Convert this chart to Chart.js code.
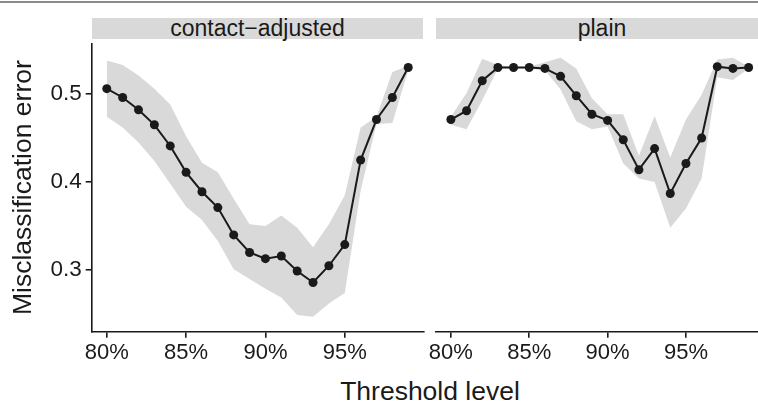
<!DOCTYPE html>
<html>
<head>
<meta charset="utf-8">
<script src="https://cdn.jsdelivr.net/npm/chart.js@4.4.1/dist/chart.umd.min.js"></script>
<style>
  html, body { margin: 0; padding: 0; overflow: hidden; background: #fff; width: 758px; height: 402px; }
  #stage { position: relative; width: 768px; height: 402px; font-family: "Liberation Sans", Arial, sans-serif; color: #1a1a1a; }
  .topline { position: absolute; left: 0; top: 1px; width: 768px; height: 1.5px; background: #8c8c8c; }
  .strip { position: absolute; top: 18px; height: 21px; background: #d9d9d9; font-size: 23px; line-height: 21px; text-align: center; }
  .box { position: absolute; top: 39px; height: 333px; }
  #xtitle { position: absolute; left: 92px; width: 676px; top: 378px; font-size: 26.5px; line-height: 26px; text-align: center; }
</style>
</head>
<body>
<div id="stage">
  <div class="topline"></div>
  <div class="strip" style="left:91.7px; width:331.6px;">contact−adjusted</div>
  <div class="strip" style="left:436px; width:332px;">plain</div>
  <div class="box" style="left:0; width:430px;"><canvas id="chartAdj"></canvas></div>
  <div class="box" style="left:410px; width:358px;"><canvas id="chartPlain"></canvas></div>
  <div id="xtitle">Threshold level</div>
</div>
<script>
// threshold levels (%)
const thresholds = [80, 81, 82, 83, 84, 85, 86, 87, 88, 89, 90, 91, 92, 93, 94, 95, 96, 97, 98, 99];
const xTicks = [80, 85, 90, 95];
const yTicks = [0.3, 0.4, 0.5];

// contact-adjusted panel
const adjErr  = [0.506, 0.496, 0.482, 0.465, 0.441, 0.411, 0.389, 0.371, 0.340, 0.320, 0.313, 0.316, 0.299, 0.286, 0.305, 0.329, 0.425, 0.471, 0.496, 0.530];
const adjLow  = [0.474, 0.462, 0.445, 0.424, 0.398, 0.372, 0.357, 0.333, 0.301, 0.290, 0.279, 0.269, 0.249, 0.247, 0.262, 0.274, 0.390, 0.466, 0.467, 0.527];
const adjHigh = [0.538, 0.533, 0.521, 0.506, 0.488, 0.452, 0.422, 0.411, 0.381, 0.352, 0.350, 0.362, 0.348, 0.326, 0.352, 0.385, 0.462, 0.474, 0.525, 0.532];

// plain panel
const plainErr  = [0.471, 0.481, 0.515, 0.530, 0.530, 0.530, 0.529, 0.520, 0.498, 0.477, 0.470, 0.448, 0.414, 0.438, 0.387, 0.421, 0.450, 0.531, 0.529, 0.530];
const plainLow  = [0.465, 0.460, 0.493, 0.529, 0.529, 0.529, 0.527, 0.505, 0.469, 0.460, 0.463, 0.421, 0.404, 0.400, 0.348, 0.370, 0.404, 0.519, 0.516, 0.529];
const plainHigh = [0.474, 0.501, 0.540, 0.533, 0.531, 0.531, 0.536, 0.541, 0.529, 0.495, 0.477, 0.477, 0.430, 0.475, 0.428, 0.471, 0.499, 0.539, 0.541, 0.531];

const ink = "#1a1a1a";
const ribbon = "#d9d9d9";
const fontFam = "'Liberation Sans', Arial, sans-serif";

const pts = (ys) => thresholds.map((t, i) => ({ x: t, y: ys[i] }));

function makePanel(id, err, low, high, showY) {
  const ctx = document.getElementById(id).getContext("2d");
  return new Chart(ctx, {
    type: "line",
    data: {
      datasets: [
        {
          data: pts(err),
          borderColor: ink,
          borderWidth: 2,
          pointRadius: 4.5,
          pointBackgroundColor: ink,
          pointBorderWidth: 0,
          fill: false
        },
        {
          data: pts(high),
          borderWidth: 0,
          pointRadius: 0,
          backgroundColor: ribbon,
          fill: "+1"
        },
        {
          data: pts(low),
          borderWidth: 0,
          pointRadius: 0,
          fill: false
        }
      ]
    },
    options: {
      responsive: true,
      maintainAspectRatio: false,
      animation: false,
      layout: { padding: { top: 0.5, right: showY ? 6.7 : 0, bottom: 0, left: showY ? 0 : 26 } },
      plugins: { legend: { display: false }, tooltip: { enabled: false } },
      scales: {
        x: {
          type: "linear",
          min: 79.05,
          max: 99.95,
          afterBuildTicks: s => { s.ticks = xTicks.map(v => ({ value: v })); },
          afterFit: s => { s.height = 40.3; },
          border: { display: true, color: ink, width: 1.6 },
          grid: { display: true, drawOnChartArea: false, drawTicks: true, tickLength: 6, color: ink, lineWidth: 1.6 },
          ticks: {
            padding: 2,
            maxRotation: 0,
            color: ink,
            font: { family: fontFam, size: 22 },
            callback: v => v + "%"
          }
        },
        y: {
          display: showY,
          min: 0.2301,
          max: 0.5573,
          afterBuildTicks: s => { s.ticks = yTicks.map(v => ({ value: v })); },
          afterFit: s => {
            if (showY) s.width = 91.7;
            // keep the panel top aligned with the strip
            s.paddingTop = 0;
            s.paddingBottom = 0;
          },
          border: { display: true, color: ink, width: 1.6 },
          grid: { display: true, drawOnChartArea: false, drawTicks: true, tickLength: 6, color: ink, lineWidth: 1.6 },
          ticks: {
            padding: 4,
            color: ink,
            font: { family: fontFam, size: 22.5 },
            callback: v => v.toFixed(1)
          },
          title: {
            display: true,
            text: "Misclassification error",
            color: ink,
            font: { family: fontFam, size: 26.5 },
            padding: { top: 8, bottom: 0 }
          }
        }
      }
    }
  });
}

makePanel("chartAdj", adjErr, adjLow, adjHigh, true);
makePanel("chartPlain", plainErr, plainLow, plainHigh, false);
</script>
</body>
</html>
